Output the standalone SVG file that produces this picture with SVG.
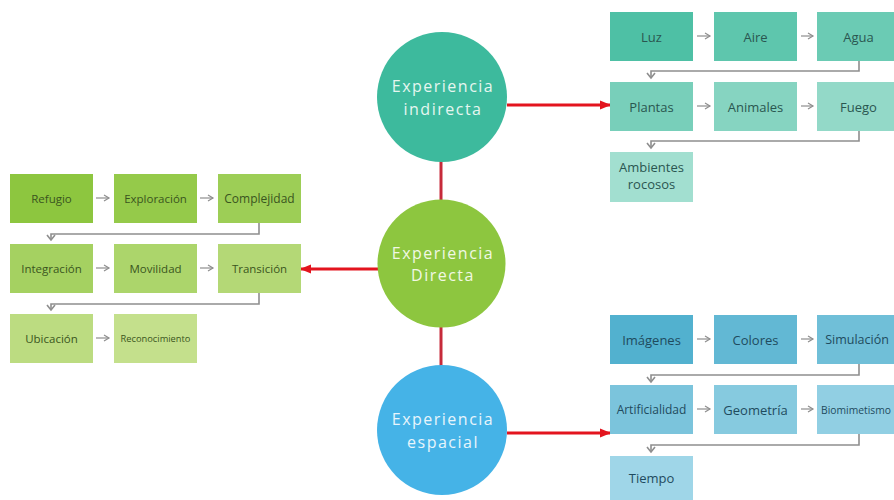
<svg xmlns="http://www.w3.org/2000/svg" width="894" height="500" viewBox="0 0 894 500">
  <style>
    .box text { font-family: "Open Sans", "DejaVu Sans", sans-serif; text-anchor: middle; dominant-baseline: central; }
    .teal text { font-size: 13px; fill: #2a5650; }
    .green text { font-size: 11.5px; fill: #3a5520; }
    .blue text { font-size: 13px; fill: #1f4b5e; }
    .hub text { font-family: "Open Sans", "DejaVu Sans", sans-serif; font-size: 16px; letter-spacing: 1.5px; text-anchor: middle; dominant-baseline: central; }
    .step { stroke: #8e8e8e; stroke-width: 1.2; fill: none; }
    .flow { stroke: #8e8e8e; stroke-width: 1.6; fill: none; }
    .link { stroke: #e3141e; stroke-width: 3; fill: none; }
    .stem { stroke: #c62a3a; stroke-width: 3; fill: none; }
  </style>
  <defs>
    <marker id="chev" markerWidth="8" markerHeight="8" refX="6" refY="4" orient="auto" markerUnits="userSpaceOnUse">
      <path d="M1,1 L6,4 L1,7" fill="none" stroke="#8e8e8e" stroke-width="1.2"/>
    </marker>
    <marker id="down" markerWidth="10" markerHeight="10" refX="6" refY="5" orient="auto" markerUnits="userSpaceOnUse">
      <path d="M1,1 L6,5 L1,9" fill="none" stroke="#8e8e8e" stroke-width="1.6"/>
    </marker>
    <marker id="red" markerWidth="12" markerHeight="12" refX="10" refY="6" orient="auto" markerUnits="userSpaceOnUse">
      <path d="M0,1.5 L11,6 L0,10.5 Z" fill="#e3141e"/>
    </marker>
  </defs>

  <!-- connectors -->
  <g id="connectors">
    <!-- hub links -->
    <line class="stem" x1="441" y1="160" x2="441" y2="202"/>
    <line class="stem" x1="441" y1="325" x2="441" y2="367"/>
    <line class="link" x1="507" y1="105" x2="610" y2="105" marker-end="url(#red)"/>
    <line class="link" x1="378" y1="269" x2="301" y2="269" marker-end="url(#red)"/>
    <line class="link" x1="507" y1="433" x2="610" y2="433" marker-end="url(#red)"/>

    <!-- indirect sequence -->
    <line class="step" x1="697" y1="36" x2="710" y2="36" marker-end="url(#chev)"/>
    <line class="step" x1="801" y1="36" x2="813" y2="36" marker-end="url(#chev)"/>
    <line class="step" x1="697" y1="106" x2="710" y2="106" marker-end="url(#chev)"/>
    <line class="step" x1="801" y1="106" x2="813" y2="106" marker-end="url(#chev)"/>
    <path class="flow" d="M859,61 V71 H651 V78" marker-end="url(#down)"/>
    <path class="flow" d="M859,131 V141 H651 V148" marker-end="url(#down)"/>

    <!-- direct sequence -->
    <line class="step" x1="96" y1="198" x2="109" y2="198" marker-end="url(#chev)"/>
    <line class="step" x1="200" y1="198" x2="213" y2="198" marker-end="url(#chev)"/>
    <line class="step" x1="96" y1="268" x2="109" y2="268" marker-end="url(#chev)"/>
    <line class="step" x1="200" y1="268" x2="213" y2="268" marker-end="url(#chev)"/>
    <line class="step" x1="96" y1="338" x2="109" y2="338" marker-end="url(#chev)"/>
    <path class="flow" d="M259,223 V234 H51 V240" marker-end="url(#down)"/>
    <path class="flow" d="M259,293 V304 H51 V310" marker-end="url(#down)"/>

    <!-- spatial sequence -->
    <line class="step" x1="697" y1="339" x2="710" y2="339" marker-end="url(#chev)"/>
    <line class="step" x1="801" y1="339" x2="813" y2="339" marker-end="url(#chev)"/>
    <line class="step" x1="697" y1="409" x2="710" y2="409" marker-end="url(#chev)"/>
    <line class="step" x1="801" y1="409" x2="813" y2="409" marker-end="url(#chev)"/>
    <path class="flow" d="M859,364 V375 H651 V382" marker-end="url(#down)"/>
    <path class="flow" d="M859,434 V445 H651 V452" marker-end="url(#down)"/>
  </g>

  <!-- hubs -->
  <g id="hub-indirecta" class="hub">
    <circle cx="442" cy="97" r="65" fill="#3dba9d"/>
    <text x="443" y="86" fill="#e6f6f0">Experiencia</text>
    <text x="443" y="109" fill="#e6f6f0">indirecta</text>
  </g>
  <g id="hub-directa" class="hub">
    <circle cx="441.5" cy="263.5" r="64" fill="#8dc63f"/>
    <text x="443" y="253" fill="#f1f8e4">Experiencia</text>
    <text x="443" y="275" fill="#f1f8e4">Directa</text>
  </g>
  <g id="hub-espacial" class="hub">
    <circle cx="442" cy="430" r="65" fill="#45b3e7"/>
    <text x="443" y="419" fill="#e8f5fc">Experiencia</text>
    <text x="443" y="442" fill="#e8f5fc">espacial</text>
  </g>

  <!-- indirect experience items -->
  <g class="box teal">
    <g id="luz"><rect x="610" y="12" width="83" height="49" fill="#4ec0a5"/><text x="651.5" y="36.5">Luz</text></g>
    <g id="aire"><rect x="714" y="12" width="83" height="49" fill="#5ec6ad"/><text x="755.5" y="36.5">Aire</text></g>
    <g id="agua"><rect x="817" y="12" width="83" height="49" fill="#6bcbb4"/><text x="858.5" y="36.5">Agua</text></g>
    <g id="plantas"><rect x="610" y="82" width="83" height="49" fill="#78cfba"/><text x="651.5" y="106.5">Plantas</text></g>
    <g id="animales"><rect x="714" y="82" width="83" height="49" fill="#86d4c1"/><text x="755.5" y="106.5">Animales</text></g>
    <g id="fuego"><rect x="817" y="82" width="83" height="49" fill="#93d9c8"/><text x="858.5" y="106.5">Fuego</text></g>
    <g id="ambientes"><rect x="610" y="152" width="83" height="50" fill="#a2dfd0"/><text x="651.5" y="167">Ambientes</text><text x="651.5" y="184">rocosos</text></g>
  </g>

  <!-- direct experience items -->
  <g class="box green">
    <g id="refugio"><rect x="10" y="174" width="83" height="49" fill="#8dc63f"/><text x="51.5" y="198.5">Refugio</text></g>
    <g id="exploracion"><rect x="114" y="174" width="83" height="49" fill="#95ca4a"/><text x="155.5" y="198.5">Exploración</text></g>
    <g id="complejidad"><rect x="218" y="174" width="83" height="49" fill="#9dce56"/><text x="259.5" y="198.5" style="font-size:12px">Complejidad</text></g>
    <g id="integracion"><rect x="10" y="244" width="83" height="49" fill="#a5d161"/><text x="51.5" y="268.5">Integración</text></g>
    <g id="movilidad"><rect x="114" y="244" width="83" height="49" fill="#acd56b"/><text x="155.5" y="268.5">Movilidad</text></g>
    <g id="transicion"><rect x="218" y="244" width="83" height="49" fill="#b4d876"/><text x="259.5" y="268.5">Transición</text></g>
    <g id="ubicacion"><rect x="10" y="314" width="83" height="49" fill="#bcdc81"/><text x="51.5" y="338.5">Ubicación</text></g>
    <g id="reconocimiento"><rect x="114" y="314" width="83" height="49" fill="#c4e08c"/><text x="155.5" y="338.5" style="font-size:9.3px">Reconocimiento</text></g>
  </g>

  <!-- spatial experience items -->
  <g class="box blue">
    <g id="imagenes"><rect x="610" y="315" width="83" height="49" fill="#52b1cf"/><text x="651.5" y="339.5">Imágenes</text></g>
    <g id="colores"><rect x="714" y="315" width="83" height="49" fill="#62b8d4"/><text x="755.5" y="339.5">Colores</text></g>
    <g id="simulacion"><rect x="817" y="315" width="83" height="49" fill="#70bfd8"/><text x="857" y="339.5" style="font-size:12.5px">Simulación</text></g>
    <g id="artificialidad"><rect x="610" y="385" width="83" height="49" fill="#7bc4dc"/><text x="651.5" y="409.5" style="font-size:12px">Artificialidad</text></g>
    <g id="geometria"><rect x="714" y="385" width="83" height="49" fill="#86cadf"/><text x="755.5" y="409.5">Geometría</text></g>
    <g id="biomimetismo"><rect x="817" y="385" width="83" height="49" fill="#91cfe3"/><text x="856" y="409.5" style="font-size:10.3px">Biomimetismo</text></g>
    <g id="tiempo"><rect x="610" y="456" width="83" height="49" fill="#9fd6e8"/><text x="651.5" y="478">Tiempo</text></g>
  </g>
</svg>
